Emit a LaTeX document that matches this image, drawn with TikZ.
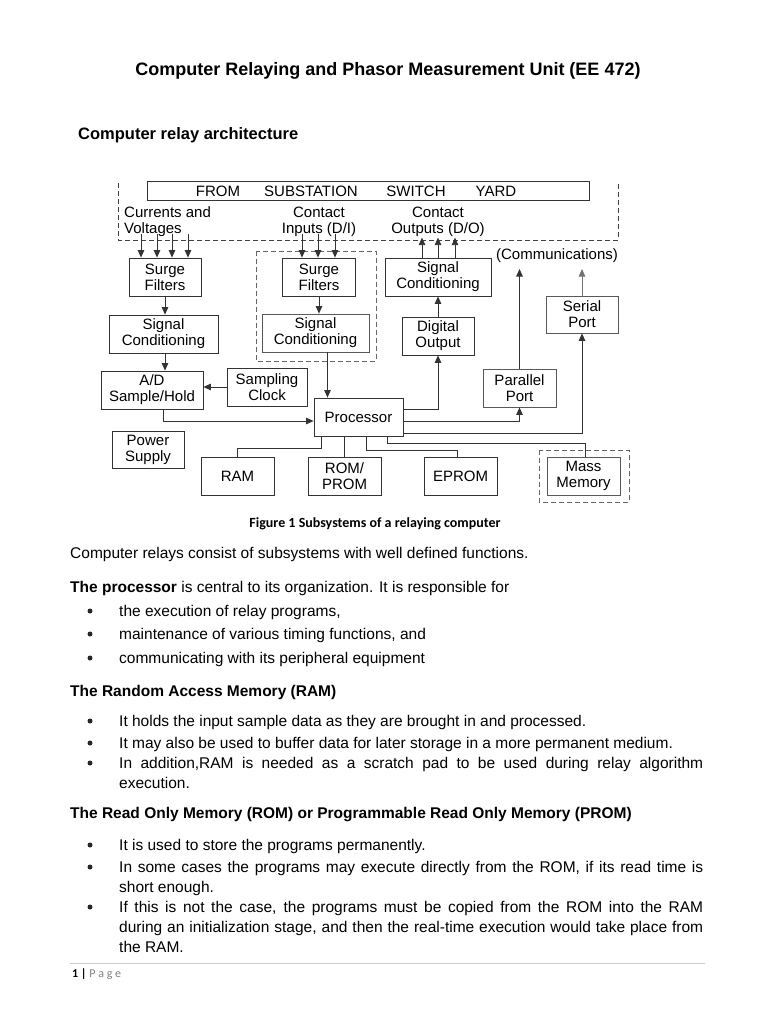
\documentclass[tikz,border=0pt]{standalone}
\usepackage{fontspec}
\setmainfont{Liberation Sans}
\newfontfamily\calibri{Carlito}
\usetikzlibrary{arrows.meta}

\tikzset{
	blk/.style = {draw = black!80, line width = 0.8pt, minimum height = 38pt, inner sep = 1pt, align = center, font = \fontsize{15}{16}\selectfont},
	arr/.style = {-{Triangle[length = 7.5pt, width = 6.5pt]}, line width = 0.8pt, draw = black!80},
	wire/.style = {line width = 0.8pt, draw = black!80},
	grp/.style = {draw = black!60, dash pattern = on 5pt off 3pt, line width = 0.7pt},
	lbl/.style = {align = center, inner sep = 0pt, font = \fontsize{15}{16}\selectfont},
	txt/.style = {anchor = base west, inner sep = 0pt, font = \fontsize{15.5}{20}\selectfont},
	bul/.style = {txt, text width = 584pt, align = justify},
}

\begin{document}
\begin{tikzpicture}[x = 1pt, y = -1pt]

	\useasboundingbox [fill = white] (0, 0) rectangle (768, 1024);

	% Headings

	\node [font = \bfseries\fontsize{18}{20}\selectfont] (title) at (388, 71) {Computer Relaying and Phasor Measurement Unit (EE 472)};
	\node [anchor = base west, inner sep = 0pt, font = \bfseries\fontsize{16.5}{18}\selectfont] (subtitle) at (78, 140) {Computer relay architecture};

	% Substation yard

	\node [draw = black!80, line width = 0.8pt, minimum width = 442pt, minimum height = 19pt, inner sep = 0pt] (yard) at (368, 191) {};
	\foreach \word/\xx in {FROM/218, SUBSTATION/311, SWITCH/416, YARD/496}
		\node [lbl] at (\xx, 191) {\word};
	\draw [grp, draw = black!75] (118, 183) -- (118, 240) -- (618, 240) -- (618, 183);

	\node [lbl, align = left, anchor = west] (cvlbl) at (124, 222) {Currents and\\Voltages};
	\node [lbl] (dilbl) at (319, 222) {Contact\\Inputs (D/I)};
	\node [lbl] (dolbl) at (438, 222) {Contact\\Outputs (D/O)};
	\node [lbl] (commlbl) at (557, 256) {(Communications)};

	% Subsystem blocks

	\node [blk, minimum width = 72pt] (sf1) at (165, 277) {Surge\\Filters};
	\node [blk, minimum width = 109pt] (sc1) at (163.5, 334) {Signal\\Conditioning};
	\node [blk, minimum width = 102pt] (ad) at (152, 390) {A/D\\Sample/Hold};
	\node [blk, minimum width = 80pt] (clk) at (267, 387) {Sampling\\Clock};
	\node [blk, minimum width = 72pt, minimum height = 37pt] (pwr) at (148, 449.5) {Power\\Supply};

	\node [blk, minimum width = 73pt] (sf2) at (319, 277) {Surge\\Filters};
	\node [blk, minimum width = 107pt, draw = black!65] (sc2) at (315.5, 333) {Signal\\Conditioning};
	\node [blk, minimum width = 106pt] (sc3) at (438, 277) {Signal\\Conditioning};
	\node [blk, minimum width = 72pt] (dout) at (438, 336) {Digital\\Output};
	\node [blk, minimum width = 72pt, minimum height = 37pt, draw = black!65] (serial) at (582, 314.5) {Serial\\Port};
	\node [blk, minimum width = 73pt, draw = black!65] (par) at (519.5, 388) {Parallel\\Port};
	\node [blk, minimum width = 89pt] (proc) at (358.5, 417) {Processor};

	\node [blk, minimum width = 73pt] (ram) at (237.5, 476) {RAM};
	\node [blk, minimum width = 73pt] (rom) at (344.5, 476) {ROM/\\PROM};
	\node [blk, minimum width = 73pt] (eprom) at (460.5, 476) {EPROM};
	\node [blk, minimum width = 73pt, draw = black!65] (mass) at (583.5, 476) {Mass\\Memory};

	% Dashed groups

	\draw [grp] (256, 251) rectangle (376, 361);
	\draw [grp] (539, 450) rectangle (629, 502);

	% Inputs and outputs

	\foreach \dx in {-24, -8, 7, 23}
		\draw [arr] ([xshift = \dx pt] sf1.north) ++(0, -24) -- ([xshift = \dx pt] sf1.north);
	\foreach \dx in {-17, -1, 16}
		\draw [arr] ([xshift = \dx pt] sf2.north) ++(0, -24) -- ([xshift = \dx pt] sf2.north);
	\foreach \dx in {-16, 0, 17}
		\draw [arr] ([xshift = \dx pt] sc3.north) -- ++(0, -20);

	% Signal paths

	\draw [arr] (sf1.south) -- (sf1.south |- sc1.north);
	\draw [arr] (sf1.south |- sc1.south) -- (sf1.south |- ad.north);
	\draw [arr] (sf2.south) -- (sf2.south |- sc2.north);
	\draw [arr] (clk.west) -- (clk.west -| ad.east);
	\draw [arr] ([xshift = 11pt] ad.south) |- ([yshift = -4pt] proc.west);
	\draw [arr] ([xshift = 12pt] sc2.south) -- ([xshift = 12pt] sc2.south |- proc.north);
	\draw [arr] (dout.north) -- (sc3.south);

	\coordinate (commtip) at (0, 269);
	\draw [arr] ([yshift = 8pt] proc.east) -| (dout.south);
	\draw [arr] ([yshift = -4pt] proc.east) -| (par.south);
	\draw [arr] ([yshift = -16pt] proc.east) -| (serial.south);
	\draw [arr] (par.north) -- (par.north |- commtip);
	\draw [arr, draw = black!55] (serial.north) -- (serial.north |- commtip);

	% Memory bus

	\draw [wire] ([xshift = -37pt] proc.south) -- ++(0, 12) -| (ram.north);
	\draw [wire] (rom.north |- proc.south) -- (rom.north);
	\draw [wire] ([xshift = 8pt] proc.south) -- ++(0, 14) -| ([xshift = -3pt] eprom.north);
	\draw [wire] ([xshift = 29pt] proc.south) -- ++(0, 7) -| ([xshift = 2pt] mass.north);

	% Caption and text

	\node [font = \calibri\bfseries\fontsize{14}{16}\selectfont] (caption) at (375, 524) {Figure 1 Subsystems of a relaying computer};

	\node [txt] at (70, 558) {Computer relays consist of subsystems with well defined functions.};
	\node [txt] at (70, 592) {\textbf{The processor} is central to its organization. It is responsible for};

	\foreach \yy in {616, 639, 663, 726, 748, 768, 850, 872, 912}
		\fill [black!85] (90, \yy - 5) circle (2.5pt);

	\node [bul] at (119, 616) {the execution of relay programs,};
	\node [bul] at (119, 639) {maintenance of various timing functions, and};
	\node [bul] at (119, 663) {communicating with its peripheral equipment};

	\node [txt, font = \bfseries\fontsize{15.5}{20}\selectfont] at (70, 696) {The Random Access Memory (RAM)};
	\node [bul] at (119, 726) {It holds the input sample data as they are brought in and processed.};
	\node [bul] at (119, 748) {It may also be used to buffer data for later storage in a more permanent medium.};
	\node [bul] at (119, 768) {In addition,RAM is needed as a scratch pad to be used during relay algorithm\linebreak execution.};

	\node [txt, font = \bfseries\fontsize{15.5}{20}\selectfont] at (70, 818) {The Read Only Memory (ROM) or Programmable Read Only Memory (PROM)};
	\node [bul] at (119, 850) {It is used to store the programs permanently.};
	\node [bul] at (119, 872) {In some cases the programs may execute directly from the ROM, if its read time is\linebreak short enough.};
	\node [bul] at (119, 912) {If this is not the case, the programs must be copied from the ROM into the RAM\linebreak during an initialization stage, and then the real-time execution would take place from\linebreak the RAM.};

	% Footer

	\draw [black!20, line width = 0.6pt] (70, 963) -- (705, 963);
	\node [anchor = base west, inner sep = 0pt, font = \calibri\fontsize{12}{14}\selectfont] (pagenum) at (72, 977) {\textbf{1 |} \textcolor{black!50}{P a g e}};

\end{tikzpicture}
\end{document}
